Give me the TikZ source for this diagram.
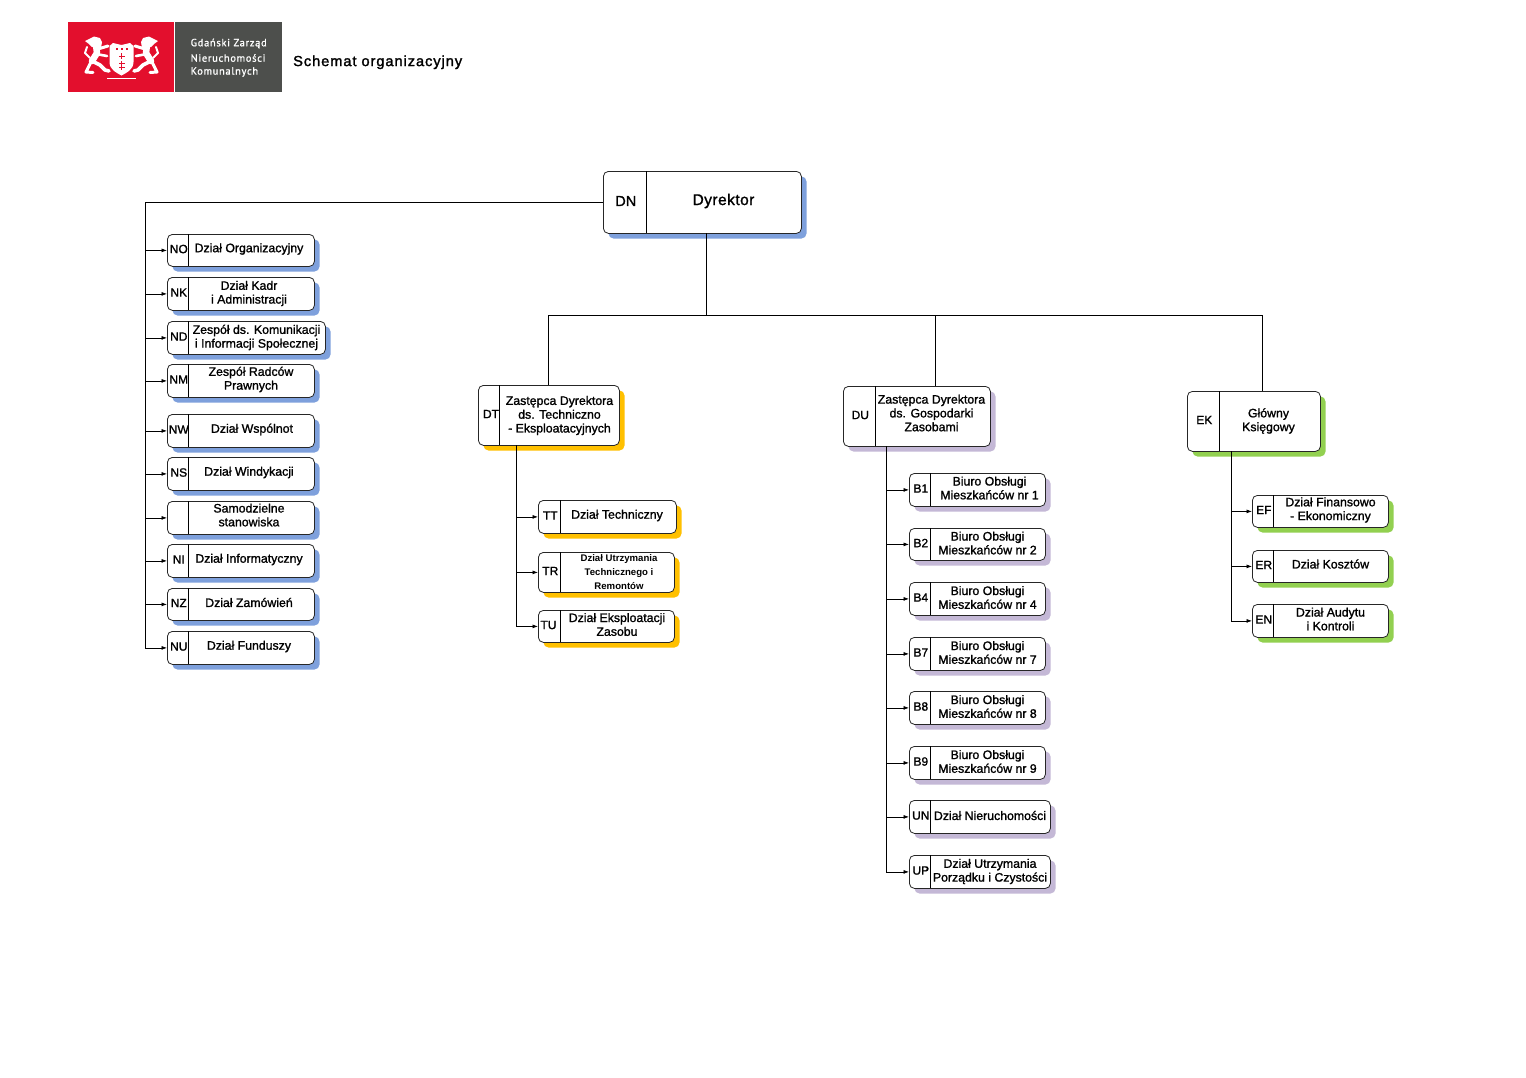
\documentclass[tikz,border=0pt]{standalone}
\usepackage{fontspec}
\setmainfont{Liberation Sans}
\newfontfamily\fbf[FakeBold=1.3]{Liberation Sans}
\newfontfamily\titlef[FakeBold=1.7,LetterSpace=6.5]{Liberation Sans}
\newfontfamily\logof[FakeBold=1.1,LetterSpace=7]{PT Sans}
\newfontfamily\tinyb{Liberation Sans Bold}
\usetikzlibrary{arrows.meta}
\definecolor{cblue}{HTML}{7EA0DC}
\definecolor{cgold}{HTML}{FFC000}
\definecolor{clil}{HTML}{C4B8D6}
\definecolor{cgrn}{HTML}{92D050}
\definecolor{logored}{HTML}{E30F2D}
\definecolor{logogray}{HTML}{4D4F4C}
\tikzset{
  orgbox/.style={draw=black!85,line width=0.8pt,fill=white,rounded corners=5pt,inner sep=0pt,anchor=north west},
  codetxt/.style={inner sep=0pt,font=\fbf\fontsize{12}{13.6}\selectfont,align=center},
  lbltxt/.style={inner sep=0pt,font=\fbf\fontsize{12.3}{13.8}\selectfont,align=center},
  tinytxt/.style={font=\tinyb\fontsize{9.6}{12}\selectfont},
  conn/.style={draw=black,line width=0.7pt},
  arr/.style={conn,-{Latex[length=5.5pt,width=4pt]}},
  logotxt/.style={inner sep=0pt,anchor=west,text=white,font=\logof\fontsize{10.4}{11}\selectfont},
  lionline/.style={draw=white,line cap=round,line join=round}
}
\def\lx{0}\def\ly{-1}\def\cx{1.3}
% name x1 y1 x2 y2 divx colour code label
\newcommand{\orgb}[9]{%
  \fill[#7,rounded corners=5pt] (#2+5.5,#3+5.5) rectangle (#4+5.5,#5+5.5);
  \node[orgbox,minimum width=#4pt-#2pt,minimum height=#5pt-#3pt] (#1) at (#2,#3) {};
  \draw[black,line width=0.7pt] (#6,#3) -- (#6,#5);
  \node[codetxt] (#1c) at ({(#2+#6)/2+\cx},{(#3+#5)/2-1}) {#8};
  \node[lbltxt] (#1t) at ({(#6+#4)/2+\lx},{(#3+#5)/2+\ly}) {#9};
  \gdef\lx{0}\gdef\ly{-1}\gdef\cx{1.3}%
}
\newcommand{\lionshape}{%
  \fill[white] (85,41) -- (90,38.5) -- (94,36.5) -- (100,38) -- (102,42) -- (101,48) -- (92,47) -- (89,44) -- cycle;
  \draw[lionline,line width=6.5pt] (96,45) -- (97,53) -- (92,61);
  \draw[lionline,line width=3pt] (98,49) -- (108,46);
  \draw[lionline,line width=2.6pt] (96,54) -- (107,56);
  \draw[lionline,line width=3.6pt] (92,61) -- (100,65) -- (105,70) -- (109,71);
  \draw[lionline,line width=3pt] (91,62) -- (88,68) -- (86,72) -- (93,72.5);
  \draw[lionline,line width=2pt] (90,58) -- (85,53) -- (87,47);
}
\begin{document}
\begin{tikzpicture}[x=1pt,y=-1pt]
\useasboundingbox (0,0) rectangle (1526,1077);
\fill[white] (0,0) rectangle (1526,1077);
\fill[logored] (68,22) rectangle (174,92);
\fill[logogray] (175,22) rectangle (282,92);
\fill[white] (109.5,46) -- (113,43) -- (121.5,45) -- (130,43) -- (133.5,46) -- (133.5,62) .. controls (133.5,70) and (126,73) .. (121.5,75.5) .. controls (117,73) and (109.5,70) .. (109.5,62) -- cycle;
\lionshape
\begin{scope}[shift={(243,0)},xscale=-1]
\lionshape
\end{scope}
\fill[white] (107,78) rectangle (136,79);
\begin{scope}[logored]
 \fill (115.5,47.5) rectangle (117.5,49.5);
 \fill (120.5,47.5) rectangle (122.5,49.5);
 \fill (125.5,47.5) rectangle (127.5,49.5);
 \fill (121,53) rectangle (122,59);
 \fill (118.5,55.5) rectangle (124.5,56.5);
 \fill (121,60.5) rectangle (122,70);
 \fill (118.5,62.5) rectangle (124.5,63.5);
 \fill (118.5,67) rectangle (124.5,68);
\end{scope}
\node[logotxt] (l1) at (190.5,43.5) {Gdański Zarząd};
\node[logotxt] (l2) at (190.5,58) {Nieruchomości};
\node[logotxt] (l3) at (190.5,72) {Komunalnych};
\node[inner sep=0pt,anchor=west,font=\titlef\fontsize{14.6}{16}\selectfont] (title) at (293,62.3) {Schemat organizacyjny};

% boxes
\orgb{DN}{603}{171}{801}{233}{646}{cblue}{\fontsize{14.5}{16}\selectfont DN}{\fontsize{15.5}{16}\selectfont\addfontfeatures{LetterSpace=3} Dyrektor}
\def\lx{-2}\orgb{NO}{167}{234}{314}{266}{188}{cblue}{NO}{Dział Organizacyjny}
\def\lx{-2}\def\ly{0}\orgb{NK}{167}{277}{314}{310}{188}{cblue}{NK}{Dział Kadr\\i Administracji}
\def\ly{0}\orgb{ND}{167}{321}{325}{354}{188}{cblue}{ND}{Zespół ds. Komunikacji\\i Informacji Społecznej}
\def\ly{-1}\orgb{NM}{167}{364}{314}{397}{188}{cblue}{NM}{Zespół Radców\\Prawnych}
\def\lx{1}\orgb{NW}{167}{414}{314}{447}{188}{cblue}{NW}{Dział Wspólnot}
\def\lx{-2}\orgb{NS}{167}{457}{314}{490}{188}{cblue}{NS}{Dział Windykacji}
\def\lx{-2}\def\ly{-2.5}\orgb{SS}{167}{501}{314}{534}{188}{cblue}{}{Samodzielne\\stanowiska}
\def\lx{-2}\orgb{NI}{167}{544}{314}{577}{188}{cblue}{NI}{Dział Informatyczny}
\def\lx{-2}\def\ly{-1.5}\orgb{NZ}{167}{588}{314}{620}{188}{cblue}{NZ}{Dział Zamówień}
\def\lx{-2}\orgb{NU}{167}{631}{314}{664}{188}{cblue}{NU}{Dział Funduszy}

\def\cx{2.5}\def\lx{0.5}\def\ly{0.5}\orgb{DT}{478}{385}{619}{445}{499}{cgold}{DT}{Zastępca Dyrektora\\ds. Techniczno\\- Eksploatacyjnych}
\def\lx{-1}\orgb{TT}{538}{500}{676}{533}{560}{cgold}{TT}{Dział Techniczny}
\def\lx{2}\def\ly{0}\orgb{TR}{538}{552}{674}{592}{560}{cgold}{TR}{\tinyb\fontsize{9.6}{12}\selectfont Dział Utrzymania\\\tinyb\fontsize{9.6}{12}\selectfont Technicznego i\\\tinyb\fontsize{9.6}{12}\selectfont Remontów}
\def\cx{-0.5}\def\ly{-1.5}\orgb{TU}{538}{610}{674}{642}{560}{cgold}{TU}{Dział Eksploatacji\\Zasobu}

\def\lx{-1}\def\ly{-3}\orgb{DU}{843}{386}{990}{446}{875}{clil}{DU}{Zastępca Dyrektora\\ds. Gospodarki\\Zasobami}
\def\lx{2}\def\ly{-1.5}\orgb{BA}{909}{473}{1045}{506}{930}{clil}{B1}{Biuro Obsługi\\Mieszkańców nr 1}
\orgb{BB}{909}{528}{1045}{560}{930}{clil}{B2}{Biuro Obsługi\\Mieszkańców nr 2}
\orgb{BC}{909}{582}{1045}{615}{930}{clil}{B4}{Biuro Obsługi\\Mieszkańców nr 4}
\orgb{BD}{909}{637}{1045}{670}{930}{clil}{B7}{Biuro Obsługi\\Mieszkańców nr 7}
\orgb{BE}{909}{691}{1045}{724}{930}{clil}{B8}{Biuro Obsługi\\Mieszkańców nr 8}
\orgb{BF}{909}{746}{1045}{779}{930}{clil}{B9}{Biuro Obsługi\\Mieszkańców nr 9}
\orgb{UN}{909}{800}{1050}{833}{930}{clil}{UN}{Dział Nieruchomości}
\def\ly{0}\orgb{UP}{909}{855}{1050}{888}{930}{clil}{UP}{Dział Utrzymania\\Porządku i Czystości}

\def\lx{-1}\def\ly{0}\orgb{EK}{1187}{391}{1320}{451}{1219}{cgrn}{EK}{Główny\\Księgowy}
\def\ly{-1}\orgb{EF}{1252}{495}{1388}{527}{1273}{cgrn}{EF}{Dział Finansowo\\- Ekonomiczny}
\def\ly{-2}\orgb{ER}{1252}{550}{1388}{582}{1273}{cgrn}{ER}{Dział Kosztów}
\def\ly{-1.5}\orgb{EN}{1252}{604}{1388}{637}{1273}{cgrn}{EN}{Dział Audytu\\i Kontroli}

% connectors
\coordinate (trL) at (145,202);
\coordinate (busY) at (706,315);
\coordinate (dnB) at (706,233);
\coordinate (tDT) at (548,385);
\coordinate (tDU) at (935,386);
\coordinate (tEK) at (1262,391);
\coordinate (dtB) at (516,445);
\coordinate (duB) at (886,446);
\coordinate (ekB) at (1231,451);
\draw[conn] (DN.west |- trL) -- (trL) -- (trL |- NU.west);
\foreach \n in {NO,NK,ND,NM,NW,NS,SS,NI,NZ,NU} \draw[arr] (trL |- \n.west) -- (\n.west);
\draw[conn] (dnB) -- (busY);
\draw[conn] (tDT) -- (tDT |- busY) -- (tEK |- busY) -- (tEK);
\draw[conn] (tDU |- busY) -- (tDU);
\draw[conn] (dtB) -- (dtB |- TU.west);
\foreach \n in {TT,TR,TU} \draw[arr] (dtB |- \n.west) -- (\n.west);
\draw[conn] (duB) -- (duB |- UP.west);
\foreach \n in {BA,BB,BC,BD,BE,BF,UN,UP} \draw[arr] (duB |- \n.west) -- (\n.west);
\draw[conn] (ekB) -- (ekB |- EN.west);
\foreach \n in {EF,ER,EN} \draw[arr] (ekB |- \n.west) -- (\n.west);
\end{tikzpicture}
\end{document}
